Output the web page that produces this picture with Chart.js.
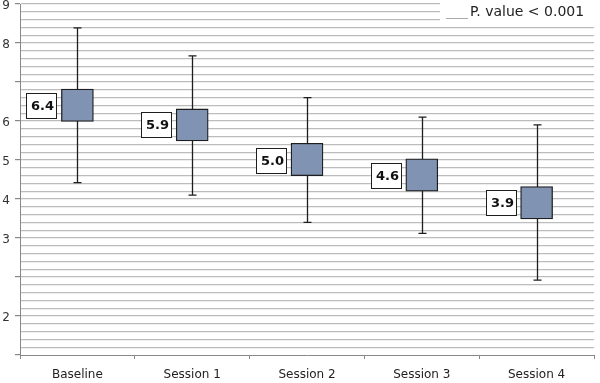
<!DOCTYPE html>
<html>
<head>
<meta charset="utf-8">
<script src="https://cdn.jsdelivr.net/npm/chart.js@4"></script>
<style>
  html, body { margin: 0; padding: 0; background: #fff; }
  #wrap { width: 600px; height: 383px; }
</style>
</head>
<body>
<div id="wrap"><canvas id="chart" width="600" height="383"></canvas></div>
<script>
// chart data
const categories = ['Baseline', 'Session 1', 'Session 2', 'Session 3', 'Session 4'];
const means = [6.4, 5.9, 5.0, 4.6, 3.9];
const boxLow = [5.99, 5.49, 4.60, 4.20, 3.49];
const boxHigh = [6.82, 6.31, 5.43, 5.03, 4.32];
const whiskerLow = [4.42, 4.10, 3.40, 3.12, 1.92];
const whiskerHigh = [8.39, 7.67, 6.60, 6.10, 5.90];
// y tick labels as printed on the axis, for values 0..9
const yTickLabels = ['', '2', '', '3', '4', '5', '6', '', '8', '9'];
const legendText = 'P. value < 0.001';

const isWhole = v => Math.abs(v - Math.round(v)) < 1e-6;

// whiskers behind the boxes
const whiskerPlugin = {
    id: 'whiskers',
    beforeDatasetsDraw(chart) {
        const ctx = chart.ctx;
        const y = chart.scales.y;
        const meta = chart.getDatasetMeta(0);
        ctx.save();
        ctx.strokeStyle = '#1e1e1e';
        ctx.lineWidth = 1.3;
        meta.data.forEach((bar, i) => {
            const x = Math.round(bar.x) + 0.5;
            const top = y.getPixelForValue(whiskerHigh[i]);
            const bottom = y.getPixelForValue(whiskerLow[i]);
            ctx.beginPath();
            ctx.moveTo(x, top);
            ctx.lineTo(x, bottom);
            ctx.moveTo(x - 4, top);
            ctx.lineTo(x + 4, top);
            ctx.moveTo(x - 4, bottom);
            ctx.lineTo(x + 4, bottom);
            ctx.stroke();
        });
        ctx.restore();
    }
};

// mean value boxes left of each bar + legend
const labelPlugin = {
    id: 'meanLabels',
    afterDatasetsDraw(chart) {
        const ctx = chart.ctx;
        const y = chart.scales.y;
        const meta = chart.getDatasetMeta(0);
        ctx.save();
        meta.data.forEach((bar, i) => {
            const left = bar.x - bar.width / 2;
            const w = 30, h = 25;
            const rx = Math.round(left - 5 - w) + 0.5;
            const ry = Math.round(y.getPixelForValue(means[i]) - h / 2) + 0.5;
            ctx.fillStyle = '#fff';
            ctx.fillRect(rx, ry, w, h);
            ctx.strokeStyle = '#1e1e1e';
            ctx.lineWidth = 1;
            ctx.strokeRect(rx, ry, w, h);
            ctx.fillStyle = '#111';
            ctx.font = 'bold 13px "DejaVu Sans"';
            ctx.textAlign = 'center';
            ctx.textBaseline = 'middle';
            ctx.fillText(means[i].toFixed(1), rx + w / 2 + 1, ry + h / 2 + 1);
        });

        // legend in the top right corner
        ctx.fillStyle = '#fff';
        ctx.fillRect(440, 0, 156, 21);
        ctx.strokeStyle = '#aaa';
        ctx.lineWidth = 1;
        ctx.beginPath();
        ctx.moveTo(446, 18.5);
        ctx.lineTo(468, 18.5);
        ctx.stroke();
        ctx.fillStyle = '#222';
        ctx.font = '14px "DejaVu Sans"';
        ctx.textAlign = 'left';
        ctx.textBaseline = 'middle';
        ctx.fillText(legendText, 470, 12);
        ctx.restore();
    }
};

new Chart(document.getElementById('chart'), {
    type: 'bar',
    data: {
        labels: categories,
        datasets: [{
            data: boxLow.map((v, i) => [v, boxHigh[i]]),
            backgroundColor: '#8193b2',
            borderColor: '#1e1e1e',
            borderWidth: 1.3,
            borderSkipped: false,
            barThickness: 32
        }]
    },
    options: {
        responsive: false,
        animation: false,
        layout: { padding: { top: 4, right: 6, left: 0, bottom: 0 } },
        plugins: {
            legend: { display: false },
            tooltip: { enabled: false }
        },
        scales: {
            x: {
                grid: {
                    drawOnChartArea: false,
                    tickLength: 4,
                    tickColor: '#888'
                },
                border: { color: '#888', width: 1 },
                ticks: {
                    color: '#222',
                    font: { family: 'DejaVu Sans', size: 12 },
                    padding: 9,
                    maxRotation: 0
                },
                afterFit(scale) { scale.height = 28; }
            },
            y: {
                min: 0,
                max: 9,
                grid: {
                    color: ctx => ctx.tick && ctx.tick.value === 0 ? 'transparent' : '#bcbcbc',
                    lineWidth: 1.2,
                    tickLength: 5,
                    tickColor: ctx => ctx.tick && isWhole(ctx.tick.value) ? '#888' : 'transparent'
                },
                border: { color: '#888', width: 1 },
                ticks: {
                    stepSize: 0.2,
                    autoSkip: false,
                    color: '#333',
                    padding: 5,
                    labelOffset: 2,
                    font: { family: 'DejaVu Sans', size: 12 },
                    callback: v => isWhole(v) ? yTickLabels[Math.round(v)] : ''
                },
                afterFit(scale) {
                    scale.width = 20;
                    scale.paddingTop = 0;
                    scale.paddingBottom = 0;
                }
            }
        }
    },
    plugins: [whiskerPlugin, labelPlugin]
});
</script>
</body>
</html>
